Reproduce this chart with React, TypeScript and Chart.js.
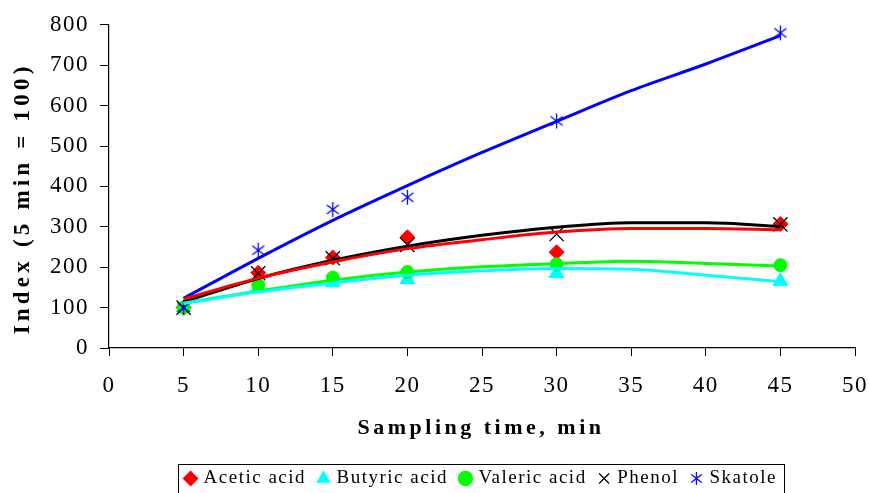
import { useEffect, useRef } from "react";
import { Chart, registerables } from "chart.js";

Chart.register(...registerables);

const seriesNames = ["Acetic acid", "Butyric acid", "Valeric acid", "Phenol", "Skatole"];
const sampleTimes = [5, 10, 15, 20, 30, 45];
const trendTimes = [5, 10, 15, 20, 25, 30, 35, 40, 45];

const aceticAcid = [100, 186, 224, 274, 237, 307];
const butyricAcid = [100, 150, 162, 170, 185, 165];
const valericAcid = [100, 156, 174, 188, 207, 205];
const phenol = [100, 185, 222, 255, 282, 306];
const skatole = [100, 242, 343, 373, 562, 780];

const aceticTrend = [121, 173, 213, 246, 268, 287, 296, 296, 293];
const butyricTrend = [110, 139, 161, 180, 191, 197, 195, 180, 164];
const valericTrend = [111, 141, 168, 188, 201, 209, 215, 209, 203];
const phenolTrend = [114, 172, 217, 252, 279, 299, 310, 310, 301];
const skatoleTrend = [123, 222, 316, 402, 484, 561, 637, 703, 773];

const xTitle = "Sampling time, min";
const yTitle = "Index (5 min = 100)";

const colors = ["#ff0000", "#00ffff", "#00ff00", "#000000", "#0000ff"];

function makeAsterisk(color: string, size: number) {
  const c = document.createElement("canvas");
  c.width = size;
  c.height = size;
  const g = c.getContext("2d")!;
  g.strokeStyle = color;
  g.lineWidth = 1.3;
  const m = size / 2;
  const r = size / 2 - 1;
  g.beginPath();
  g.moveTo(m, m - r);
  g.lineTo(m, m + r);
  g.moveTo(m - r * 0.8, m - r * 0.6);
  g.lineTo(m + r * 0.8, m + r * 0.6);
  g.moveTo(m - r * 0.8, m + r * 0.6);
  g.lineTo(m + r * 0.8, m - r * 0.6);
  g.stroke();
  return c;
}

const toPts = (xs: number[], ys: number[]) => xs.map((x, i) => ({ x, y: ys[i] }));

export default function App() {
  const ref = useRef<HTMLCanvasElement>(null);
  useEffect(() => {
    document.body.style.margin = "0";
    const canvas = ref.current!;
    const star = makeAsterisk(colors[4], 17);
    const starLegend = makeAsterisk(colors[4], 15);
    const markerSeries = [aceticAcid, butyricAcid, valericAcid, phenol, skatole];
    const trendSeries = [aceticTrend, butyricTrend, valericTrend, phenolTrend, skatoleTrend];
    const styles: any[] = ["rectRot", "triangle", "circle", "crossRot", star];
    const radii = [7.5, 8.5, 6.5, 10, 8];

    const markerSets = markerSeries.map((vals, i) => ({
      label: seriesNames[i],
      data: toPts(sampleTimes, vals),
      showLine: false,
      pointStyle: styles[i],
      pointRadius: radii[i],
      pointBackgroundColor: colors[i],
      pointBorderColor: colors[i],
      pointBorderWidth: i === 3 ? 1.3 : 1,
      backgroundColor: colors[i],
      borderColor: colors[i],
      order: 10 - i,
    }));
    const trendSets = trendSeries.map((vals, i) => ({
      label: seriesNames[i] + " trend",
      data: toPts(trendTimes, vals),
      showLine: true,
      pointRadius: 0,
      borderColor: colors[i],
      borderWidth: 3,
      cubicInterpolationMode: "monotone" as const,
      fill: false,
      order: 1,
    }));

    const spacing = {
      id: "spacing",
      beforeLayout(chart: any) {
        chart.ctx.letterSpacing = "1.5px";
      },
      beforeDraw(chart: any) {
        chart.ctx.letterSpacing = "1.5px";
      },
    };

    const decor = {
      id: "decor",
      afterDraw(chart: any) {
        const { ctx, chartArea } = chart;
        ctx.save();
        ctx.fillStyle = "#000";
        ctx.font = 'bold 22px "Liberation Serif"';
        ctx.textAlign = "center";
        ctx.textBaseline = "middle";
        ctx.letterSpacing = "3.5px";
        ctx.fillText(xTitle, (chartArea.left + chartArea.right) / 2 - 1, chartArea.bottom + 80);
        ctx.translate(23, (chartArea.top + chartArea.bottom) / 2 + 12);
        ctx.rotate(-Math.PI / 2);
        ctx.font = 'bold 23px "Liberation Serif"';
        ctx.letterSpacing = "4.2px";
        ctx.fillText(yTitle, 0, 0);
        ctx.restore();

        const hb = chart.legend && chart.legend.legendHitBoxes;
        if (hb && hb.length) {
          const left = Math.min(...hb.map((b: any) => b.left)) - 9.5;
          const right = Math.max(...hb.map((b: any) => b.left + b.width)) + 7;
          const top = Math.min(...hb.map((b: any) => b.top)) - 5;
          const bottom = chart.height + 2;
          ctx.save();
          ctx.strokeStyle = "#000";
          ctx.lineWidth = 1;
          ctx.strokeRect(Math.round(left) + 0.5, Math.round(top) + 0.5, Math.round(right - left), Math.round(bottom - top));
          ctx.restore();
        }
      },
    };

    const tickFont = { family: '"Liberation Serif"', size: 23 };

    const chart = new Chart(canvas, {
      type: "scatter",
      data: { datasets: [...trendSets, ...markerSets] as any },
      options: {
        animation: false,
        responsive: false,
        events: [],
        layout: { padding: { top: 24, right: 1, bottom: -5, left: 0 } },
        plugins: {
          tooltip: { enabled: false },
          legend: {
            position: "bottom",
            fullSize: false,
            labels: {
              usePointStyle: true,
              boxWidth: 7,
              boxHeight: 10,
              padding: 14,
              color: "#000",
              font: { family: '"Liberation Serif"', size: 19 },
              generateLabels: (chart: any) =>
                chart.data.datasets
                  .map((ds: any, i: number) => ({
                    text: ds.label,
                    datasetIndex: i,
                    fillStyle: ds.pointBackgroundColor,
                    strokeStyle: ds.pointBorderColor,
                    lineWidth: 1.2,
                    pointStyle: ds.pointStyle === star ? starLegend : ds.pointStyle,
                    hidden: false,
                    fontColor: "#000",
                  }))
                  .filter((it: any) => !String(it.text).endsWith(" trend")),
            },
          },
        },
        scales: {
          x: {
            type: "linear",
            min: 0,
            max: 50,
            ticks: { stepSize: 5, color: "#000", padding: 16, maxRotation: 0, font: tickFont },
            grid: { display: true, drawOnChartArea: false, drawTicks: true, tickLength: 8, color: "#000" },
            border: { display: true, color: "#000", width: 1.2 },
            afterFit: (s: any) => {
              s.height = 107;
              s.paddingRight = 14;
              s.paddingLeft = 0;
            },
          },
          y: {
            type: "linear",
            min: 0,
            max: 800,
            ticks: { stepSize: 100, color: "#000", padding: 11, font: tickFont },
            grid: { display: true, drawOnChartArea: false, drawTicks: true, tickLength: 9, color: "#000" },
            border: { display: true, color: "#000", width: 1.2 },
            afterFit: (s: any) => { s.width = 109; },
          },
        },
      },
      plugins: [spacing, decor],
    });
    return () => chart.destroy();
  }, []);
  return (
    <div style={{ width: 869, height: 493, position: "relative" }}>
      <canvas ref={ref} width={869} height={493} style={{ display: "block" }} />
    </div>
  );
}
